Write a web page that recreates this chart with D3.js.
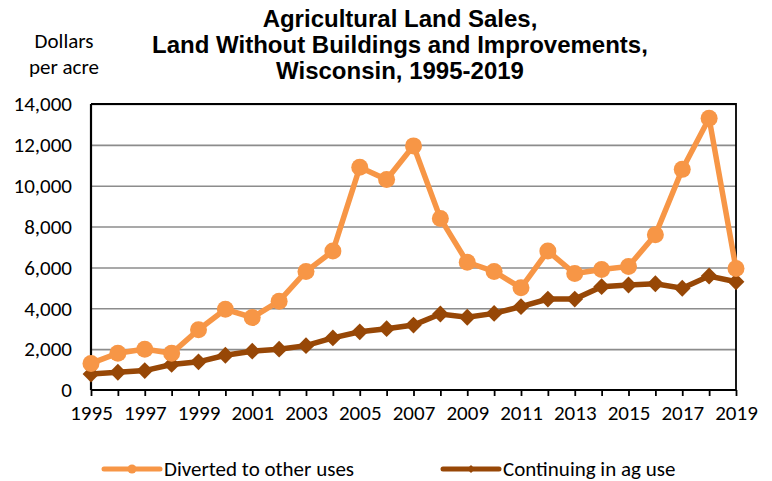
<!DOCTYPE html>
<html lang="en">
<head>
  <meta charset="UTF-8">
  <title>Agricultural Land Sales</title>
  <style>
    body { margin: 0; background: #fff; }
  </style>
</head>
<body>
  <svg id="svg" width="772" height="481"></svg>

  <script src="https://d3js.org/d3.v7.min.js"></script>
  <script>
    // data
    const years = d3.range(1995, 2020)
    const diverted = [1300, 1800, 2000, 1800, 2950, 3950, 3550, 4350, 5800, 6800,
      10900, 10300, 11950, 8400, 6250, 5800, 5000, 6800, 5700, 5900,
      6050, 7600, 10800, 13300, 5950]
    const continuing = [780, 870, 950, 1250, 1380, 1700, 1900, 2000, 2170, 2550,
      2850, 3000, 3180, 3720, 3560, 3750, 4080, 4450, 4450, 5060,
      5140, 5200, 4980, 5580, 5300]
    const yTicks = [0, 2000, 4000, 6000, 8000, 10000, 12000, 14000]
    const titleLines = ['Agricultural Land Sales,', 'Land Without Buildings and Improvements,', 'Wisconsin, 1995-2019']

    const orange = '#f79646'
    const brown = '#974706'
    const labelFont = "Carlito, Calibri, Lato, 'Noto Sans', sans-serif"
    const labelSize = 21

    const margin = { top: 104, right: 36, bottom: 91, left: 91 }
    const width = 772 - margin.left - margin.right
    const height = 481 - margin.top - margin.bottom

    const svg = d3.select('#svg')

    const x = d3.scaleLinear()
      .domain([1995, 2019])
      .range([margin.left, margin.left + width])
    const y = d3.scaleLinear()
      .domain([0, 14000])
      .range([margin.top + height, margin.top])

    // title
    svg.append('g')
      .selectAll('text')
      .data(titleLines)
      .enter()
      .append('text')
      .attr('x', 400)
      .attr('y', (d, i) => 27 + i * 26)
      .attr('text-anchor', 'middle')
      .style('font-family', "'Liberation Sans', Arial, sans-serif")
      .style('font-weight', 'bold')
      .style('font-size', '24px')
      .text(d => d)

    // y axis label
    svg.append('g')
      .selectAll('text')
      .data(['Dollars', 'per acre'])
      .enter()
      .append('text')
      .attr('x', 64)
      .attr('y', (d, i) => 48 + i * 26)
      .attr('text-anchor', 'middle')
      .attr('font-family', labelFont)
      .attr('font-size', labelSize)
      .text(d => d)

    // gridlines
    const grid = d3.axisLeft(y)
      .tickValues(yTicks.slice(1))
      .tickSize(-width)
      .tickFormat('')
    svg.append('g')
      .attr('transform', `translate(${margin.left}, 0)`)
      .call(grid)
      .call(g => g.select('.domain').remove())
      .call(g => g.selectAll('line').attr('stroke', '#8c8c8c').attr('stroke-width', 1.6))

    // y tick labels
    const leftAxis = d3.axisLeft(y)
      .tickValues(yTicks)
      .tickSize(0)
      .tickPadding(19)
      .tickFormat(d3.format(','))
    svg.append('g')
      .attr('transform', `translate(${margin.left}, 0)`)
      .call(leftAxis)
      .attr('font-family', labelFont)
      .attr('font-size', labelSize)
      .call(g => g.select('.domain').remove())
      .call(g => g.selectAll('text').attr('fill', '#000'))

    // frame top + right
    svg.append('path')
      .attr('d', `M${margin.left},${margin.top}H${margin.left + width}V${margin.top + height}`)
      .attr('fill', 'none')
      .attr('stroke', '#000')
      .attr('stroke-width', 1.8)

    // bottom axis
    const bottomAxis = d3.axisBottom(x)
      .tickValues(years)
      .tickSize(6)
      .tickPadding(9)
      .tickFormat(d => d % 2 === 1 ? d : '')
    svg.append('g')
      .attr('transform', `translate(0, ${margin.top + height})`)
      .call(bottomAxis)
      .attr('font-family', labelFont)
      .attr('font-size', labelSize)
      .call(g => g.select('.domain').attr('d', `M${margin.left},0H${margin.left + width}`).attr('stroke-width', 2.2))
      .call(g => g.selectAll('line').attr('stroke-width', 1.8))
      .call(g => g.selectAll('text').attr('fill', '#000'))

    // left axis line
    svg.append('line')
      .attr('x1', margin.left).attr('x2', margin.left)
      .attr('y1', margin.top).attr('y2', margin.top + height)
      .attr('stroke', '#000')
      .attr('stroke-width', 2.2)

    const line = d3.line()
      .x((d, i) => x(years[i]))
      .y(d => y(d))

    const diamond = d3.symbol().type(d3.symbolDiamond2)

    // continuing series
    svg.append('path')
      .datum(continuing)
      .attr('d', line)
      .attr('fill', 'none')
      .attr('stroke', brown)
      .attr('stroke-width', 5.5)
    svg.append('g')
      .selectAll('path')
      .data(continuing)
      .enter()
      .append('path')
      .attr('d', diamond.size(180))
      .attr('transform', (d, i) => `translate(${x(years[i])}, ${y(d)})`)
      .attr('fill', brown)

    // diverted series
    svg.append('path')
      .datum(diverted)
      .attr('d', line)
      .attr('fill', 'none')
      .attr('stroke', orange)
      .attr('stroke-width', 5.5)
    svg.append('g')
      .selectAll('circle')
      .data(diverted)
      .enter()
      .append('circle')
      .attr('cx', (d, i) => x(years[i]))
      .attr('cy', d => y(d))
      .attr('r', 8.5)
      .attr('fill', orange)

    // legend
    const legend = [
      { name: 'Diverted to other uses', color: orange, x: 104, shape: 'circle' },
      { name: 'Continuing in ag use', color: brown, x: 443, shape: 'diamond' }
    ]
    const lg = svg.append('g')
      .selectAll('g')
      .data(legend)
      .enter()
      .append('g')
      .attr('transform', d => `translate(${d.x}, 469)`)
    lg.append('line')
      .attr('x1', 0).attr('x2', 56)
      .attr('stroke', d => d.color)
      .attr('stroke-width', 5)
      .attr('stroke-linecap', 'round')
    lg.filter(d => d.shape === 'circle')
      .append('circle')
      .attr('cx', 28)
      .attr('r', 4.5)
      .attr('fill', d => d.color)
    lg.filter(d => d.shape === 'diamond')
      .append('path')
      .attr('d', diamond.size(40))
      .attr('transform', 'translate(28, 0)')
      .attr('fill', d => d.color)
    lg.append('text')
      .attr('x', 60)
      .attr('y', 7)
      .attr('font-family', labelFont)
      .attr('font-size', labelSize)
      .text(d => d.name)
  </script>
</body>
</html>
